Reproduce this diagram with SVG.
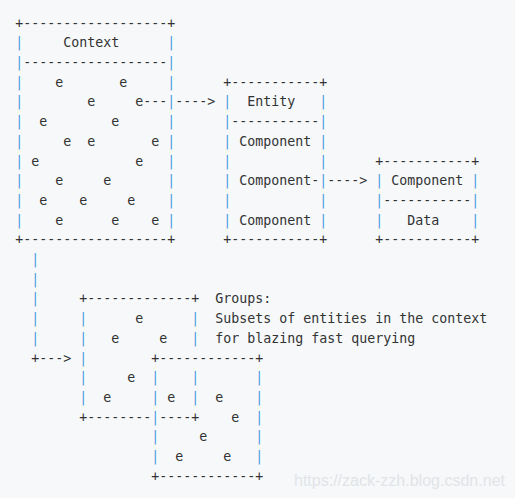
<svg xmlns="http://www.w3.org/2000/svg" width="515" height="498" viewBox="0 0 515 498" xml:space="preserve">
<style>
text{font-family:"DejaVu Sans Mono","Liberation Mono",monospace;font-size:13.29px;fill:#333333;white-space:pre}
.b{fill:#4a9be0}
.wm{font-family:"Liberation Sans",Arial,sans-serif;font-size:16px;fill:#e2e4e7}
</style>
<rect width="515" height="498" fill="#f6f8fa"/>
<g id="context">
<text x="15.3" y="27.6">+------------------+</text>
<text x="15.3" y="47.3"><tspan class="b">|</tspan>     Context      <tspan class="b">|</tspan></text>
<text x="15.3" y="67.0"><tspan class="b">|</tspan>------------------<tspan class="b">|</tspan></text>
<text x="15.3" y="86.7"><tspan class="b">|</tspan>    e       e     <tspan class="b">|</tspan></text>
<text x="15.3" y="106.4"><tspan class="b">|</tspan>        e     e</text>
<text x="167.3" y="106.4" class="b">|</text>
<text x="15.3" y="126.1"><tspan class="b">|</tspan>  e        e      <tspan class="b">|</tspan></text>
<text x="15.3" y="145.8"><tspan class="b">|</tspan>     e  e       e <tspan class="b">|</tspan></text>
<text x="15.3" y="165.5"><tspan class="b">|</tspan> e            e   <tspan class="b">|</tspan></text>
<text x="15.3" y="185.2"><tspan class="b">|</tspan>    e     e       <tspan class="b">|</tspan></text>
<text x="15.3" y="204.9"><tspan class="b">|</tspan>  e    e     e    <tspan class="b">|</tspan></text>
<text x="15.3" y="224.6"><tspan class="b">|</tspan>    e      e    e <tspan class="b">|</tspan></text>
<text x="15.3" y="244.3">+------------------+</text>
</g>
<g id="entity">
<text x="223.3" y="86.7">+-----------+</text>
<text x="223.3" y="106.4"><tspan class="b">|</tspan>  Entity   <tspan class="b">|</tspan></text>
<text x="223.3" y="126.1"><tspan class="b">|</tspan>-----------<tspan class="b">|</tspan></text>
<text x="223.3" y="145.8"><tspan class="b">|</tspan> Component <tspan class="b">|</tspan></text>
<text x="223.3" y="165.5"><tspan class="b">|</tspan>           <tspan class="b">|</tspan></text>
<text x="223.3" y="185.2"><tspan class="b">|</tspan> Component</text>
<text x="319.3" y="185.2" class="b">|</text>
<text x="223.3" y="204.9"><tspan class="b">|</tspan>           <tspan class="b">|</tspan></text>
<text x="223.3" y="224.6"><tspan class="b">|</tspan> Component <tspan class="b">|</tspan></text>
<text x="223.3" y="244.3">+-----------+</text>
</g>
<g id="component">
<text x="375.3" y="165.5">+-----------+</text>
<text x="375.3" y="185.2"><tspan class="b">|</tspan> Component <tspan class="b">|</tspan></text>
<text x="375.3" y="204.9"><tspan class="b">|</tspan>-----------<tspan class="b">|</tspan></text>
<text x="375.3" y="224.6"><tspan class="b">|</tspan>   Data    <tspan class="b">|</tspan></text>
<text x="375.3" y="244.3">+-----------+</text>
</g>
<g id="group-a">
<text x="79.3" y="303.4">+-------------+</text>
<text x="79.3" y="323.1"><tspan class="b">|</tspan>      e      <tspan class="b">|</tspan></text>
<text x="79.3" y="342.8"><tspan class="b">|</tspan>   e     e   <tspan class="b">|</tspan></text>
<text x="79.3" y="362.5" class="b">|</text>
<text x="79.3" y="382.2"><tspan class="b">|</tspan>     e</text>
<text x="191.3" y="382.2" class="b">|</text>
<text x="79.3" y="401.9"><tspan class="b">|</tspan>  e</text>
<text x="167.3" y="401.9">e</text>
<text x="191.3" y="401.9" class="b">|</text>
<text x="79.3" y="421.6">+--------</text>
<text x="159.3" y="421.6">----+</text>
</g>
<g id="group-b">
<text x="151.3" y="362.5">+------------+</text>
<text x="151.3" y="382.2" class="b">|</text>
<text x="255.3" y="382.2" class="b">|</text>
<text x="151.3" y="401.9" class="b">|</text>
<text x="215.3" y="401.9">e    <tspan class="b">|</tspan></text>
<text x="151.3" y="421.6" class="b">|</text>
<text x="231.3" y="421.6">e  <tspan class="b">|</tspan></text>
<text x="151.3" y="441.3"><tspan class="b">|</tspan>     e      <tspan class="b">|</tspan></text>
<text x="151.3" y="461.0"><tspan class="b">|</tspan>  e     e   <tspan class="b">|</tspan></text>
<text x="151.3" y="480.7">+------------+</text>
</g>
<g id="groups-label">
<text x="215.3" y="303.4">Groups:</text>
<text x="215.3" y="323.1">Subsets of entities in the context</text>
<text x="215.3" y="342.8">for blazing fast querying</text>
</g>
<g id="connectors">
<text x="143.3" y="106.4">---</text>
<text x="175.3" y="106.4">----&gt;</text>
<text x="311.3" y="185.2">-</text>
<text x="327.3" y="185.2">----&gt;</text>
<text x="31.3" y="264.0" class="b">|</text>
<text x="31.3" y="283.7" class="b">|</text>
<text x="31.3" y="303.4" class="b">|</text>
<text x="31.3" y="323.1" class="b">|</text>
<text x="31.3" y="342.8" class="b">|</text>
<text x="31.3" y="362.5">+---&gt;</text>
</g>
<text class="wm" x="294" y="486" textLength="211" lengthAdjust="spacingAndGlyphs">https://zack-zzh.blog.csdn.net</text>
</svg>
